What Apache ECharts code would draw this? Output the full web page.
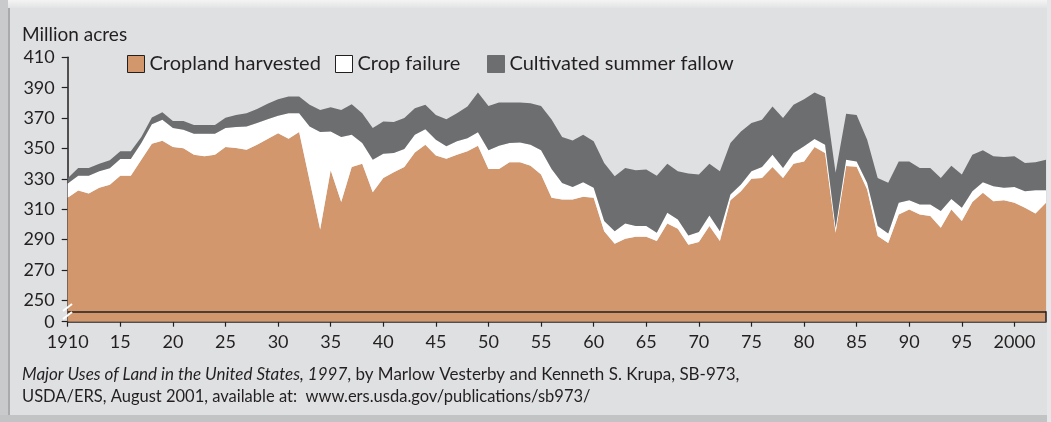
<!DOCTYPE html>
<html>
<head>
<meta charset="utf-8">
<script src="https://cdn.jsdelivr.net/npm/echarts@6/dist/echarts.min.js"></script>
<style>
html,body{margin:0;padding:0;background:#E8E9EA;}
#c{width:1051px;height:422px;}
</style>
</head>
<body>
<div id="c"></div>
<script>
// ---- data (million acres) ----
const startYear = 1910, endYear = 2003;
const years = [];
for (let y = startYear; y <= endYear; y++) years.push(String(y));

const croplandHarvested = [
  317.5,322.3,320.4,324.1,326.2,332.1,332.1,342.6,353.1,355.1,
  350.9,350.1,345.9,344.8,345.9,351.0,350.3,349.2,352.5,356.2,
  360.1,356.4,360.8,328.7,296.7,335.6,314.7,337.8,340.0,321.2,
  330.6,334.3,337.8,347.4,352.5,345.3,343.3,345.9,348.1,351.8,
  336.5,336.5,340.9,340.9,338.7,332.8,317.5,316.4,316.4,318.2,
  317.5,295.6,287.3,290.6,291.9,291.9,289.1,300.7,297.2,286.7,
  288.4,298.9,289.1,316.0,321.9,330.0,330.6,337.8,330.6,340.0,
  341.5,350.9,347.0,294.6,338.5,338.0,323.0,292.4,287.8,306.6,
  309.9,306.6,305.5,297.8,309.9,302.2,314.7,320.8,315.3,316.0,
  314.2,311.0,307.2,314.2
];
const cropFailure = [
  9.4,9.8,11.7,10.9,10.8,11.0,11.0,11.0,12.9,13.8,
  12.5,12.2,13.8,14.9,13.8,12.4,13.8,15.3,14.2,13.1,
  11.4,16.8,12.4,35.8,64.1,25.6,42.8,21.2,13.6,21.4,
  16.0,12.7,11.8,11.6,10.2,10.5,8.1,8.8,8.7,8.8,
  12.3,15.3,12.7,13.1,13.8,16.0,19.0,10.9,8.3,9.6,
  6.6,6.6,8.3,10.1,7.0,7.0,5.4,7.0,6.1,6.1,
  6.6,7.0,6.5,3.7,4.4,5.0,7.2,8.1,6.6,7.0,
  9.9,5.3,5.5,3.0,4.1,3.5,4.3,6.5,6.2,7.6,
  6.1,6.5,7.6,11.0,6.9,8.8,7.2,7.0,9.9,8.1,
  10.5,10.9,15.3,8.3
];
const summerFallow = [
  3.5,5.1,5.1,5.0,5.2,5.0,5.0,3.9,4.4,5.0,
  4.6,5.7,5.7,5.7,5.7,6.8,8.0,8.7,9.2,10.1,
  10.9,11.0,11.0,14.2,14.6,16.0,17.9,20.1,19.6,20.8,
  21.2,20.5,20.4,17.5,16.0,16.3,17.9,18.5,20.8,26.2,
  29.2,28.4,26.6,26.2,27.3,29.2,32.5,30.2,30.6,31.2,
  30.6,38.3,36.1,36.5,36.7,37.2,37.6,32.3,31.7,40.7,
  37.8,34.1,39.4,33.9,34.9,31.7,31.1,31.7,32.8,31.7,
  31.0,30.6,31.2,36.4,30.2,30.6,28.5,31.7,33.5,27.3,
  25.5,24.1,24.1,21.8,21.9,21.8,24.0,21.0,19.6,20.3,
  20.1,18.6,18.4,20.1
];
const seriesNames = ['Cropland harvested', 'Crop failure', 'Cultivated summer fallow'];
const yTickValues = [236, 250, 270, 290, 310, 330, 350, 370, 390, 410];
const yTickLabels = ['0', '250', '270', '290', '310', '330', '350', '370', '390', '410'];
const breakValue = 242.8;

// ---- style ----
const TXT = '#231F20';
const FONT = 'Lato';
const colors = ['#D3976E', '#FFFFFF', '#6D6E70'];

const chart = echarts.init(document.getElementById('c'), null, {renderer: 'canvas'});
const dataSets = [croplandHarvested, cropFailure, summerFallow];

const series = seriesNames.map((name, i) => ({
  name: name,
  type: 'line',
  stack: 'total',
  data: dataSets[i],
  showSymbol: false,
  symbol: 'none',
  lineStyle: {width: 0},
  itemStyle: {color: colors[i]},
  areaStyle: {color: colors[i], opacity: 1},
  emphasis: {disabled: true},
  z: 2
}));
// axis-break strip outline (horizontal line + right edge)
series[2].markLine = {
  silent: true,
  symbol: ['none', 'none'],
  label: {show: false},
  lineStyle: {color: TXT, width: 1.5, type: 'solid'},
  emphasis: {disabled: true},
  data: [
    {yAxis: breakValue},
    [{coord: [years[years.length - 1], yTickValues[0]]}, {coord: [years[years.length - 1], breakValue]}]
  ]
};

const legendLefts = [127, 335, 487];
const legends = seriesNames.map((name, i) => ({
  left: legendLefts[i], top: 54, padding: 0,
  icon: 'rect', itemWidth: 17, itemHeight: 17, itemGap: 0,
  selectedMode: false,
  textStyle: {fontFamily: FONT, fontSize: 20, color: TXT},
  data: [{name: name, itemStyle: {color: colors[i], borderColor: (i === 2 ? colors[2] : TXT), borderWidth: 1}}]
}));
const isFiveYear = idx => (startYear + idx) % 5 === 0;

chart.setOption({
  animation: false,
  backgroundColor: 'transparent',
  graphic: [
    {type: 'rect', shape: {x: 0, y: 0, width: 1051, height: 422}, style: {fill: '#DFE0E2'}, z: -10},
    {type: 'rect', shape: {x: 0, y: 0, width: 1051, height: 8}, style: {fill: new echarts.graphic.LinearGradient(0, 0, 0, 1, [{offset: 0, color: '#F4F4F4'}, {offset: 1, color: '#E2E3E4'}])}, z: -9},
    {type: 'rect', shape: {x: 0, y: 0, width: 8, height: 422}, style: {fill: '#C9CACC'}, z: -9},
    {type: 'rect', shape: {x: 8, y: 8, width: 2, height: 408}, style: {fill: '#A9AAAC'}, z: -9},
    {type: 'rect', shape: {x: 0, y: 415, width: 1051, height: 7}, style: {fill: '#C2C3C5'}, z: -9},
    {type: 'rect', shape: {x: 1047, y: 0, width: 4, height: 422}, style: {fill: '#E6E7E8'}, z: -9},
    {type: 'text', left: 22, top: 25, style: {text: 'Million acres', font: '19px ' + FONT, fill: TXT}},
    {type: 'line', shape: {x1: 63, y1: 311, x2: 72, y2: 304}, style: {stroke: '#FFFFFF', lineWidth: 2}, z: 20},
    {type: 'line', shape: {x1: 63, y1: 319, x2: 72, y2: 312}, style: {stroke: '#FFFFFF', lineWidth: 2}, z: 20},
    {type: 'text', left: 22, top: 366, style: {
      text: '{i|Major Uses of Land in the United States, 1997}, by Marlow Vesterby and Kenneth S. Krupa, SB-973,',
      font: '17px ' + FONT, fill: TXT,
      rich: {i: {fontStyle: 'italic', fontFamily: FONT, fontSize: 17, fill: TXT}}
    }},
    {type: 'text', left: 22, top: 388, style: {
      text: 'USDA/ERS, August 2001, available at:  www.ers.usda.gov/publications/sb973/',
      font: '16.5px ' + FONT, fill: TXT
    }}
  ],
  legend: legends,
  grid: {left: 67.7, right: 5, top: 57.3, bottom: 100.3},
  xAxis: {
    type: 'category', data: years, boundaryGap: false,
    axisLine: {show: true, lineStyle: {color: TXT, width: 1.5}},
    axisTick: {show: true, length: 5, interval: isFiveYear, lineStyle: {color: TXT, width: 1.2}},
    axisLabel: {
      fontFamily: FONT, fontSize: 18, color: TXT, margin: 11,
      interval: isFiveYear,
      formatter: v => (v === '1910' || v === '2000') ? v : v.slice(2)
    },
    splitLine: {show: false}
  },
  yAxis: {
    type: 'value', min: yTickValues[0], max: yTickValues[yTickValues.length - 1],
    axisLine: {show: true, lineStyle: {color: TXT, width: 1.5}},
    axisTick: {show: true, length: 6, customValues: yTickValues, lineStyle: {color: TXT, width: 1.2}},
    axisLabel: {
      fontFamily: FONT, fontSize: 18, color: TXT, margin: 13,
      customValues: yTickValues,
      formatter: v => { const k = yTickValues.indexOf(v); return k >= 0 ? yTickLabels[k] : ''; }
    },
    splitLine: {show: false}
  },
  series: series
});
</script>
</body>
</html>
